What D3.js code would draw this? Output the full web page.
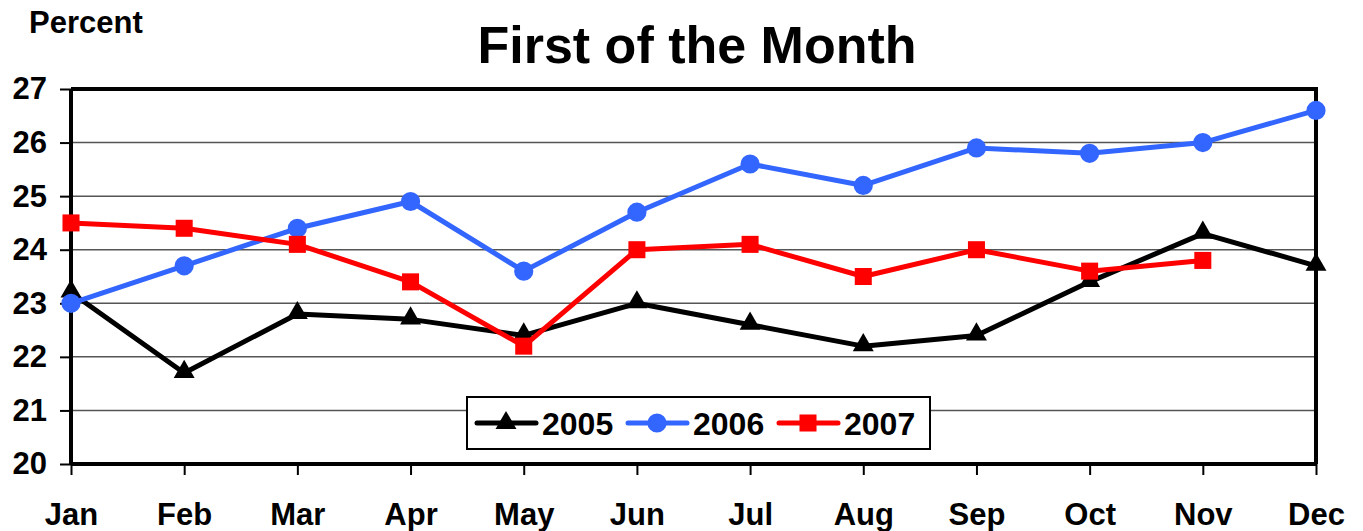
<!DOCTYPE html>
<html>
<head>
<meta charset="utf-8">
<script src="https://cdn.jsdelivr.net/npm/d3@7"></script>
<style>
  body { margin: 0; background: #fff; }
  svg { display: block; font-family: Arial, 'Liberation Sans', sans-serif; font-weight: bold; }
</style>
</head>
<body>
<div id="chart"></div>
<script>
var months = ['Jan', 'Feb', 'Mar', 'Apr', 'May', 'Jun', 'Jul', 'Aug', 'Sep', 'Oct', 'Nov', 'Dec']
var yTicks = [20, 21, 22, 23, 24, 25, 26, 27]
var years = ['2005', '2006', '2007']
var vals2005 = [23.2, 21.7, 22.8, 22.7, 22.4, 23.0, 22.6, 22.2, 22.4, 23.4, 24.3, 23.7]
var vals2006 = [23.0, 23.7, 24.4, 24.9, 23.6, 24.7, 25.6, 25.2, 25.9, 25.8, 26.0, 26.6]
var vals2007 = [24.5, 24.4, 24.1, 23.4, 22.2, 24.0, 24.1, 23.5, 24.0, 23.6, 23.8]

var width = 1363, height = 531
var margin = { top: 89, right: 47, bottom: 67, left: 71 }
var w = width - margin.left - margin.right,
  h = height - margin.top - margin.bottom

var svg = d3.select('#chart').append('svg')
  .attr('width', width).attr('height', height)

var g = svg.append('g')
  .attr('transform', 'translate(' + margin.left + ',' + margin.top + ')')

var x = d3.scalePoint().domain(months).range([0, w]).padding(0)
var y = d3.scaleLinear().domain([20, 27]).range([h, 0])

// gridlines
g.selectAll('.grid').data(yTicks.slice(1, -1)).enter()
  .append('line')
  .attr('x1', 0).attr('x2', w)
  .attr('y1', d => y(d)).attr('y2', d => y(d))
  .attr('stroke', '#555').attr('stroke-width', 1.5)

// frame top/right
g.append('path')
  .attr('d', 'M0,0H' + w + 'V' + h)
  .attr('fill', 'none').attr('stroke', '#000').attr('stroke-width', 4)

// y axis
var yAxis = g.append('g')
  .call(d3.axisLeft(y).tickValues(yTicks).tickSize(11).tickPadding(13).tickFormat(d3.format('d')))
yAxis.select('.domain').attr('stroke-width', 4).attr('d', 'M0,0V' + h)
yAxis.selectAll('.tick line').attr('stroke-width', 2)
yAxis.selectAll('.tick text').attr('font-size', 31).attr('fill', '#000')

// x axis
var xAxis = g.append('g')
  .attr('transform', 'translate(0,' + h + ')')
  .call(d3.axisBottom(x).tickSize(11).tickPadding(28))
xAxis.select('.domain').attr('stroke-width', 4).attr('d', 'M0,0H' + w)
xAxis.selectAll('.tick line').attr('stroke-width', 2)
xAxis.selectAll('.tick text').attr('font-size', 31).attr('fill', '#000')

var series = [
  { name: years[0], values: vals2005, color: '#000000', marker: 'triangle' },
  { name: years[1], values: vals2006, color: '#3366ff', marker: 'circle' },
  { name: years[2], values: vals2007, color: '#ff0000', marker: 'square' }
]

var symbolOf = {
  triangle: d3.symbol().type(d3.symbolTriangle).size(190),
  circle: d3.symbol().type(d3.symbolCircle).size(290),
  square: d3.symbol().type(d3.symbolSquare).size(290)
}

var line = d3.line().x((d, i) => x(months[i])).y(d => y(d))

series.forEach(s => {
  g.append('path')
    .datum(s.values)
    .attr('fill', 'none')
    .attr('stroke', s.color)
    .attr('stroke-width', 5)
    .attr('stroke-linejoin', 'round')
    .attr('d', line)
  g.selectAll(null).data(s.values).enter()
    .append('path')
    .attr('d', symbolOf[s.marker]())
    .attr('fill', s.color)
    .attr('transform', (d, i) => 'translate(' + x(months[i]) + ',' + (y(d) + (s.marker === 'triangle' ? -1 : 0)) + ')')
})

// legend
var lg = svg.append('g').attr('transform', 'translate(467,397)')
lg.append('rect')
  .attr('width', 463).attr('height', 52)
  .attr('fill', '#fff').attr('stroke', '#000').attr('stroke-width', 2)
var item = lg.selectAll('.item').data(series).enter()
  .append('g')
  .attr('transform', (d, i) => 'translate(' + (10 + i * 151) + ',26)')
item.append('line')
  .attr('x1', 0).attr('x2', 59)
  .attr('stroke', d => d.color).attr('stroke-width', 5).attr('stroke-linecap', 'round')
item.append('path')
  .attr('d', d => symbolOf[d.marker]())
  .attr('fill', d => d.color)
  .attr('transform', 'translate(29,0)')
item.append('text')
  .attr('x', 65).attr('dy', '0.36em')
  .attr('font-size', 32)
  .text(d => d.name)

// titles
svg.append('text')
  .attr('x', 29).attr('y', 33)
  .attr('font-size', 31)
  .text('Percent')
svg.append('text')
  .attr('x', 697).attr('y', 63)
  .attr('text-anchor', 'middle')
  .attr('font-size', 52)
  .text('First of the Month')
</script>
</body>
</html>
